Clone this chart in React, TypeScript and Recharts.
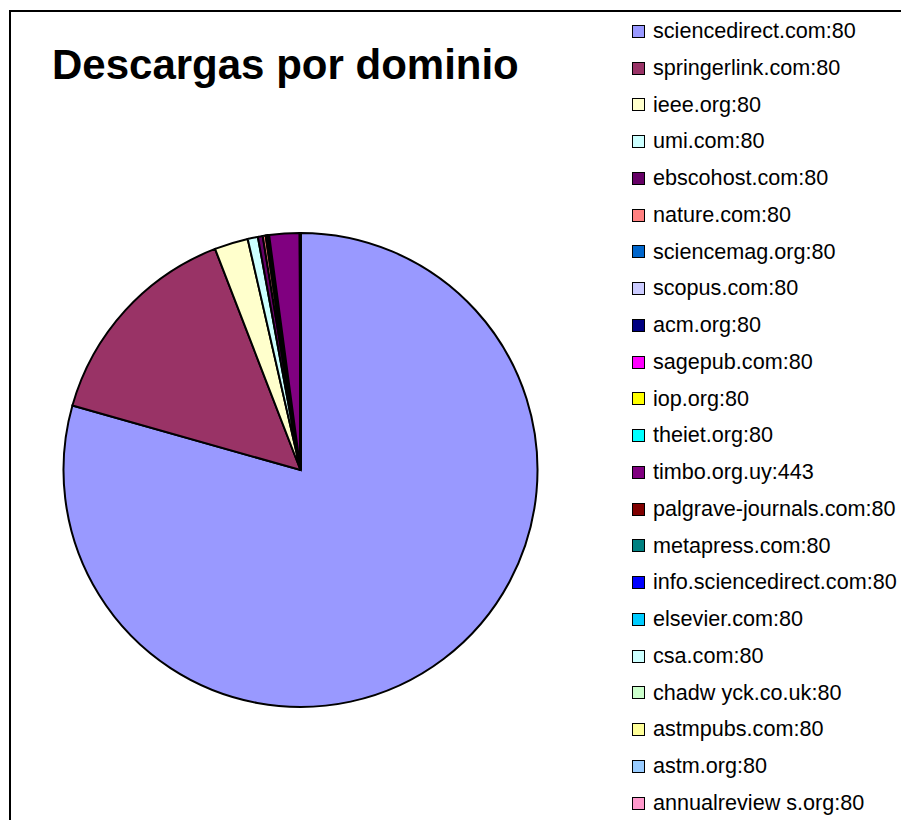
import { PieChart, Pie, Cell, Legend } from "recharts";

// Domains in the order Excel lists them (slices go clockwise from 12 o'clock)
const domains = [
  "sciencedirect.com:80",
  "springerlink.com:80",
  "ieee.org:80",
  "umi.com:80",
  "ebscohost.com:80",
  "nature.com:80",
  "sciencemag.org:80",
  "scopus.com:80",
  "acm.org:80",
  "sagepub.com:80",
  "iop.org:80",
  "theiet.org:80",
  "timbo.org.uy:443",
  "palgrave-journals.com:80",
  "metapress.com:80",
  "info.sciencedirect.com:80",
  "elsevier.com:80",
  "csa.com:80",
  "chadw yck.co.uk:80",
  "astmpubs.com:80",
  "astm.org:80",
  "annualreview s.org:80",
];

const downloads = [
  23900, 4440, 690, 210, 100, 60, 25, 15, 12, 8, 6, 5, 620, 4, 3, 2, 2, 1, 1,
  1, 1, 1,
];

const colors = [
  "#9999FF",
  "#993366",
  "#FFFFCC",
  "#CCFFFF",
  "#660066",
  "#FF8080",
  "#0066CC",
  "#CCCCFF",
  "#000080",
  "#FF00FF",
  "#FFFF00",
  "#00FFFF",
  "#800080",
  "#800000",
  "#008080",
  "#0000FF",
  "#00CCFF",
  "#CCFFFF",
  "#CCFFCC",
  "#FFFF99",
  "#99CCFF",
  "#FF99CC",
];

const chartData = domains.map((name, i) => ({
  name,
  value: downloads[i],
  color: colors[i],
}));

const FONT = "'Liberation Sans', Arial, sans-serif";
const ROW_H = 36.75;

function LegendList() {
  return (
    <div style={{ paddingTop: 13, fontFamily: FONT }}>
      {chartData.map((d) => (
        <div
          key={d.name}
          style={{
            height: ROW_H,
            lineHeight: `${ROW_H}px`,
            display: "flex",
            alignItems: "center",
            whiteSpace: "nowrap",
          }}
        >
          <span
            style={{
              display: "inline-block",
              width: 11,
              height: 11,
              background: d.color,
              border: "1.5px solid #000",
              marginRight: 8,
            }}
          />
          <span style={{ fontSize: 21.6, color: "#000" }}>{d.name}</span>
        </div>
      ))}
    </div>
  );
}

export default function App() {
  return (
    <div
      style={{
        position: "absolute",
        left: 0,
        top: 0,
        width: 901,
        height: 820,
        overflow: "hidden",
        background: "#fff",
      }}
    >
      <div
        style={{
          position: "absolute",
          left: 9,
          top: 10,
          width: 901,
          height: 820,
          borderLeft: "2px solid #000",
          borderTop: "2px solid #000",
        }}
      />
      <div
        style={{
          position: "absolute",
          left: 52,
          top: 44,
          fontFamily: FONT,
          fontWeight: "bold",
          fontSize: 42,
          lineHeight: "42px",
          color: "#000",
          whiteSpace: "nowrap",
        }}
      >
        Descargas por dominio
      </div>
      <div style={{ position: "absolute", left: 0, top: 0 }}>
        <PieChart
          width={901}
          height={820}
          margin={{ top: 0, right: 0, bottom: 0, left: 0 }}
        >
          <Pie
            data={chartData}
            dataKey="value"
            nameKey="name"
            cx={300.5}
            cy={470}
            outerRadius={237}
            startAngle={90}
            endAngle={-270}
            stroke="#000"
            strokeWidth={2}
            isAnimationActive={false}
          >
            {chartData.map((entry, index) => (
              <Cell key={`cell-${index}`} fill={entry.color} />
            ))}
          </Pie>
          <Legend
            layout="vertical"
            align="right"
            verticalAlign="top"
            content={() => <LegendList />}
            wrapperStyle={{ position: "absolute", left: 632, top: 0, width: 269 }}
          />
        </PieChart>
      </div>
    </div>
  );
}
